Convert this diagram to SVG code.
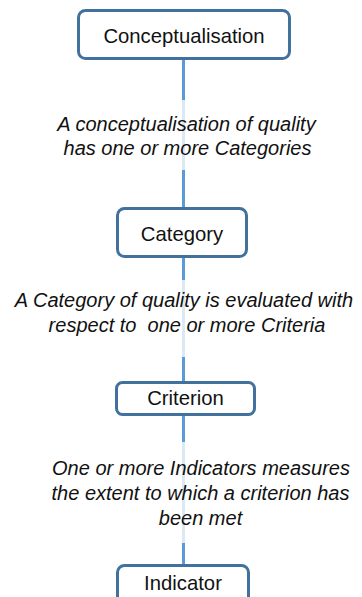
<svg xmlns="http://www.w3.org/2000/svg" width="362" height="597" viewBox="0 0 362 597">
<style>
.box{fill:#fff;stroke:#41719C;stroke-width:3}
.conn{stroke:#5B9BD5;stroke-width:3;fill:none}
.bt{font-family:"Liberation Sans",Arial,sans-serif;font-size:20.3px;fill:#111;text-anchor:middle}
.lt{font-family:"Liberation Sans",Arial,sans-serif;font-size:20px;font-style:italic;fill:#111;text-anchor:middle;white-space:pre}
.lbg{fill:#fff;fill-opacity:0.78}
</style>
<rect width="362" height="597" fill="#fff"/>
<g id="connectors">
<line class="conn" x1="183.5" y1="58" x2="183.5" y2="209"/>
<line class="conn" x1="183.5" y1="256" x2="183.5" y2="383"/>
<line class="conn" x1="183.5" y1="414" x2="183.5" y2="566"/>
</g>
<g id="label1">
<rect class="lbg" x="50" y="100" width="274" height="70"/>
<text class="lt" x="186.5" y="131">A conceptualisation of quality</text>
<text class="lt" x="187.5" y="155">has one or more Categories</text>
</g>
<g id="label2">
<rect class="lbg" x="8" y="280" width="352" height="77"/>
<text class="lt" x="184" y="307">A Category of quality is evaluated with</text>
<text class="lt" x="187" y="332">respect to  one or more Criteria</text>
</g>
<g id="label3">
<rect class="lbg" x="44" y="442" width="314" height="101"/>
<text class="lt" x="201" y="475">One or more Indicators measures</text>
<text class="lt" x="200.5" y="500">the extent to which a criterion has</text>
<text class="lt" x="200.5" y="525">been met</text>
</g>
<g id="conceptualisation">
<rect class="box" x="78.5" y="10.5" width="211" height="48" rx="7"/>
<text class="bt" x="184" y="43">Conceptualisation</text>
</g>
<g id="category">
<rect class="box" x="117.5" y="208.5" width="129" height="48" rx="7"/>
<text class="bt" x="182" y="241">Category</text>
</g>
<g id="criterion">
<rect class="box" x="116.5" y="382.5" width="138" height="32" rx="6"/>
<text class="bt" x="185.5" y="405">Criterion</text>
</g>
<g id="indicator">
<rect class="box" x="117.5" y="565.5" width="131" height="48" rx="7"/>
<text class="bt" x="183" y="590">Indicator</text>
</g>
</svg>
